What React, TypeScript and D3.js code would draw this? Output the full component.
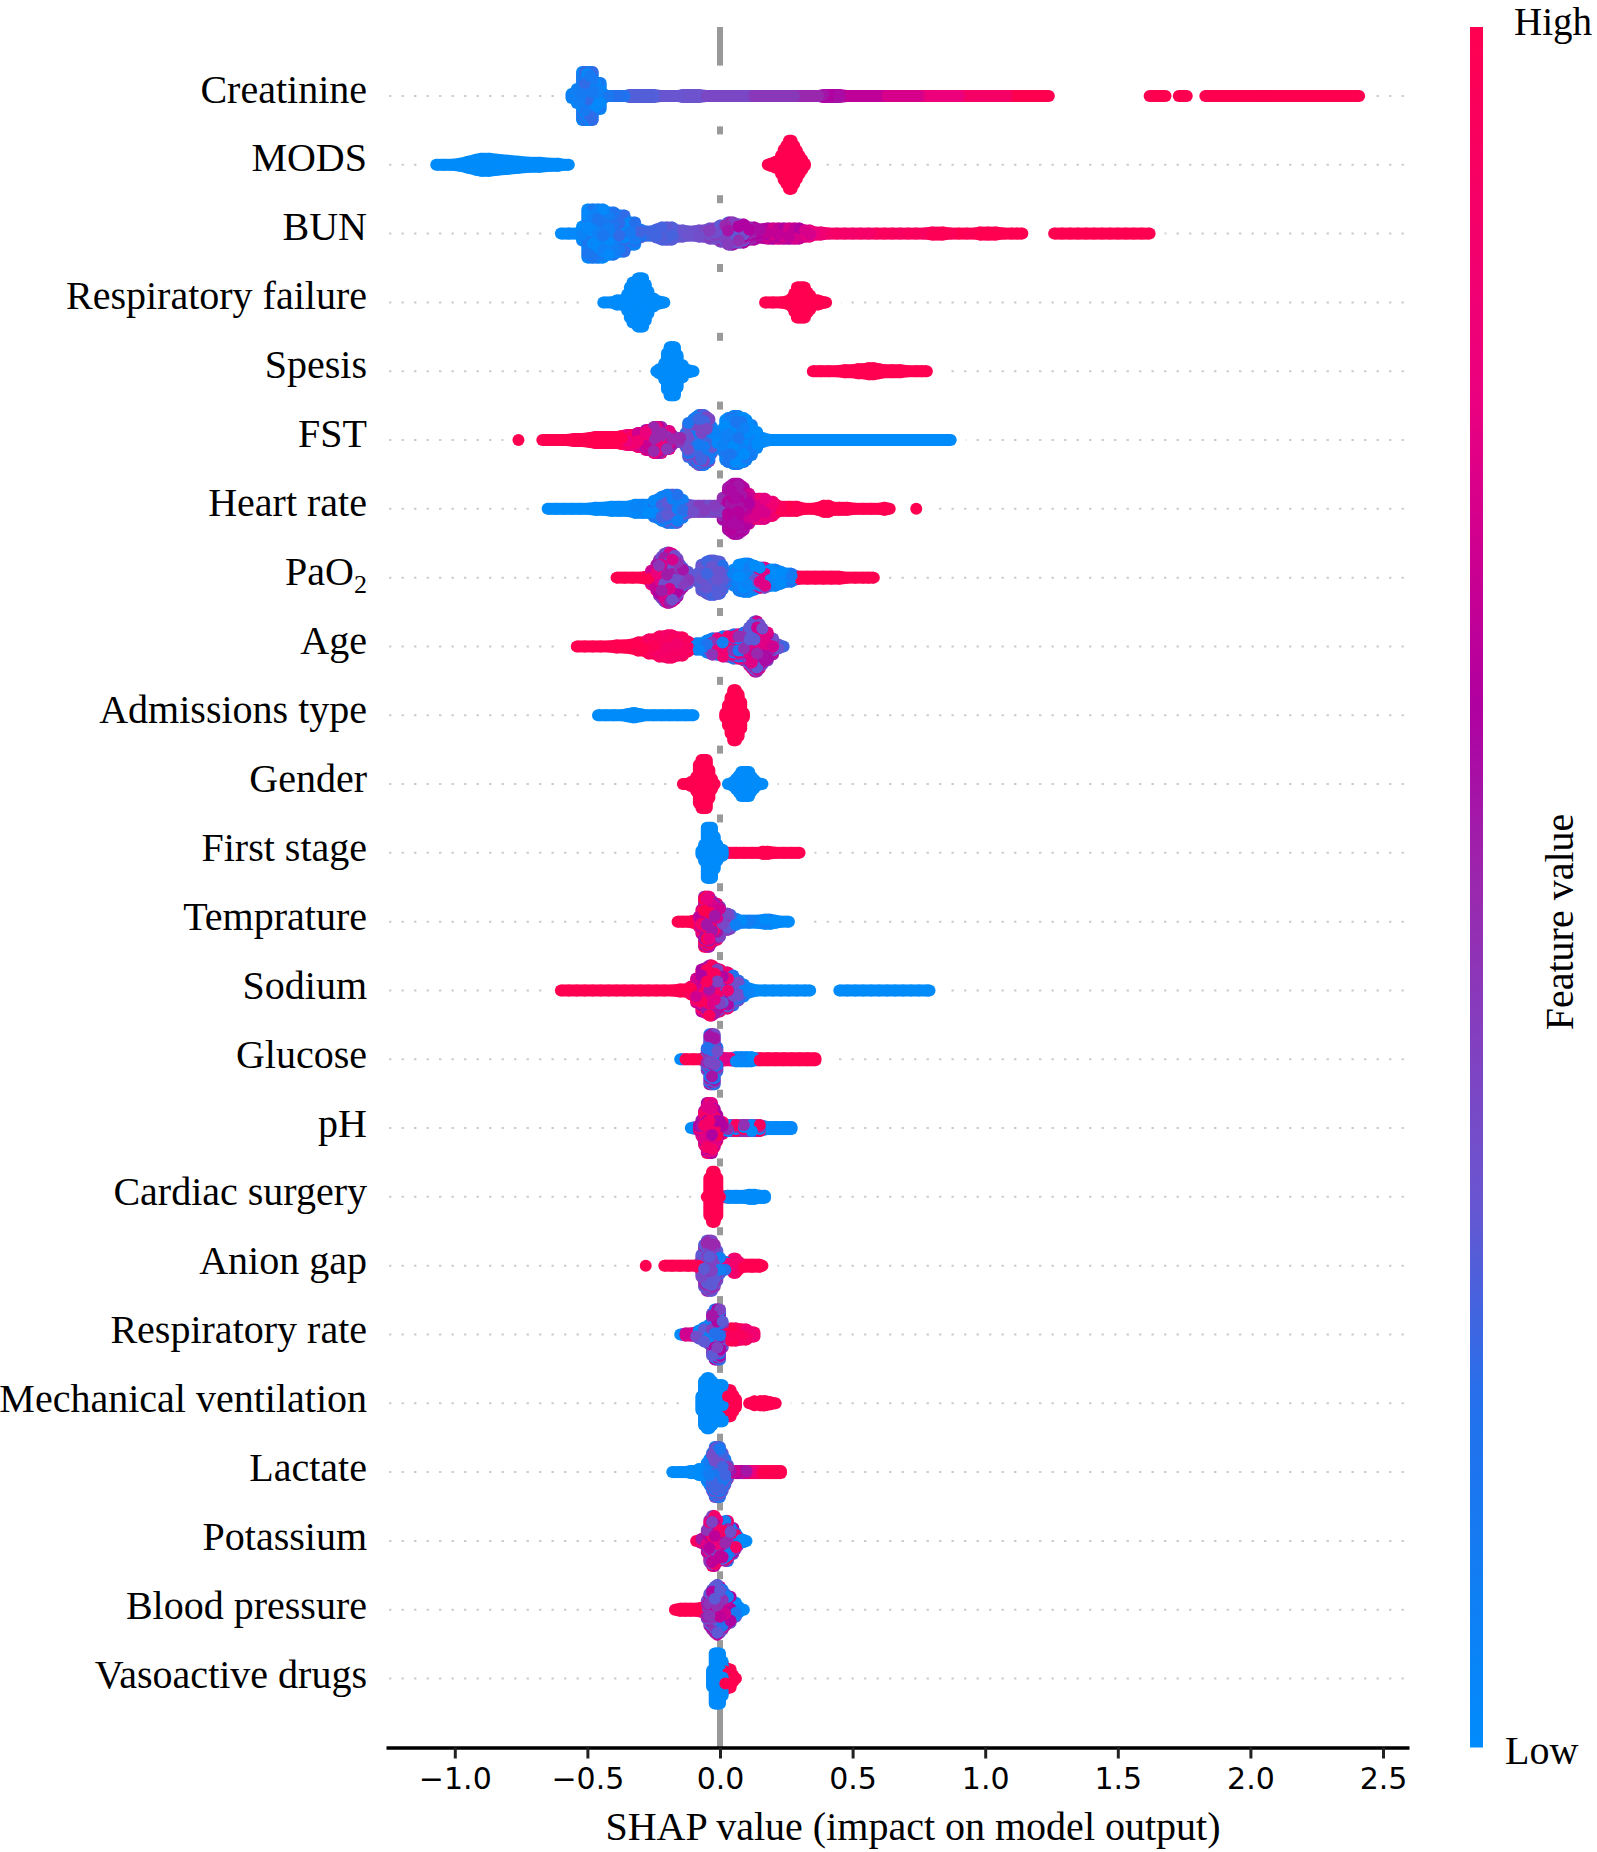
import React, { useEffect, useRef } from 'react';
import * as d3 from 'd3';

// one run = [points stacked per x, colour low, colour high, SHAP values x100]
type Run = [number, number, number, number[]];

const featureNames = ['Creatinine', 'MODS', 'BUN', 'Respiratory failure', 'Spesis', 'FST', 'Heart rate', 'PaO', 'Age', 'Admissions type', 'Gender', 'First stage', 'Temprature', 'Sodium', 'Glucose', 'pH', 'Cardiac surgery', 'Anion gap', 'Respiratory rate', 'Mechanical ventilation', 'Lactate', 'Potassium', 'Blood pressure', 'Vasoactive drugs'];
const axisTicks = [-1, -0.5, 0, 0.5, 1, 1.5, 2, 2.5];
const colorStops = ['#008bfb', '#2470ec', '#6a55d0', '#8240c0', '#9a28ae', '#b000a0', '#ea0080', '#ff0051'];
const colorStopAt = [0, 0.2, 0.32, 0.41, 0.5, 0.605, 0.78, 1];

const creatinine: Run[] = [
  [3, .02, .08, [-56, -55]], [8, .02, .1, [-54, -53]], [25, .02, .22, [-52, -51, -50, -49, -48]], [14, .02, .15, [-47, -46, -45]], [3, .05, .1, [-44]],
  [1, .15, .2, [-42, -39, -36]], [2, .28, .28, [-34, -31, -28, -25]], [1, .32, .32, [-22, -19, -16]], [2, .33, .33, [-14, -11, -8]],
  [1, .38, .38, [-5, -2, 1, 4, 7, 10]], [1, .44, .44, [13, 16, 19, 22, 25, 28]], [1, .5, .5, [31, 34, 37]], [2, .55, .6, [39, 42, 45]],
  [1, .65, .65, [48, 51, 54, 57, 60]], [1, .72, .72, [63, 66, 69, 72, 75]], [1, .8, .8, [78, 81, 84, 87, 90]], [1, .9, .9, [93, 96, 99, 102, 105, 108]],
  [1, 1, 1, [111, 114, 117, 120, 122, 124, 162, 165, 168, 173, 176, 183, 186, 189, 192, 195, 198, 201, 204, 207, 210, 213, 216, 219, 222, 225, 228, 231, 234, 237, 239, 241]],
];
const mods: Run[] = [
  [1, 0, 0, [-107, -104, -101]], [2, 0, 0, [-98]], [4, 0, 0, [-95]], [6, 0, 0, [-92]], [7, 0, 0, [-90, -87]], [6, 0, 0, [-84]], [5, 0, 0, [-80]], [4, 0, 0, [-76]], [3, 0, 0, [-72, -68]], [2, 0, 0, [-64, -61]], [1, 0, 0, [-59, -57]],
  [1, 1, 1, [18]], [2, 1, 1, [19]], [4, 1, 1, [21]], [10, 1, 1, [23]], [16, 1, 1, [24]], [20, 1, 1, [25]], [25, 1, 1, [26, 27]], [20, 1, 1, [28]], [15, 1, 1, [29]], [10, 1, 1, [30]], [6, 1, 1, [31]], [2, 1, 1, [32]],
];
const bun: Run[] = [
  [1, 0, .02, [-60, -57, -54]], [8, 0, .06, [-52]], [25, .02, .15, [-50, -48, -46, -44]], [22, .02, .18, [-42, -40]], [19, .03, .22, [-38, -36]], [12, .05, .2, [-34, -32]], [5, .15, .25, [-30]], [3, .22, .25, [-28, -26]],
  [5, .25, .28, [-24]], [7, .26, .3, [-22, -20, -18]], [4, .3, .32, [-16, -14]], [3, .32, .34, [-12, -10]], [4, .35, .38, [-8, -6]], [6, .35, .42, [-4, -2]], [9, .3, .5, [0, 2]], [12, .3, .55, [3, 4, 5]], [10, .35, .6, [7, 9]], [7, .5, .6, [11, 13]], [5, .58, .62, [15]],
  [6, .6, .72, [18, 20, 22, 24, 26, 28, 30]], [4, .72, .78, [32, 34]], [2, .8, .85, [36, 38]], [1, .88, .9, [41, 44, 47, 50, 53, 56]], [1, .93, .95, [59, 62, 65, 68, 71, 74, 77]], [2, .96, .98, [80, 84]], [1, .97, 1, [87, 90, 93, 96]], [2, 1, 1, [98, 101, 104]], [1, 1, 1, [107, 110, 112, 114, 126, 129, 132, 135, 138, 141, 144, 147, 150, 153, 156, 159, 162]],
];
const respFailure: Run[] = [
  [1, 0, 0, [-44, -41]], [3, 0, 0, [-39, -37]], [9, 0, 0, [-35]], [16, 0, 0, [-34]], [21, 0, 0, [-33, -32]], [25, 0, 0, [-31, -30, -29]], [19, 0, 0, [-28]], [12, 0, 0, [-27]], [5, 0, 0, [-26, -25]], [2, 0, 0, [-24, -23]], [1, 0, 0, [-21]],
  [1, 1, 1, [17, 20, 23]], [2, 1, 1, [25]], [5, 1, 1, [27]], [10, 1, 1, [28]], [16, 1, 1, [29, 30, 31, 32]], [11, 1, 1, [33]], [8, 1, 1, [34]], [3, 1, 1, [35, 37]], [2, 1, 1, [38]], [1, 1, 1, [40]],
];
const sepsis: Run[] = [
  [1, 0, 0, [-24]], [3, 0, 0, [-23, -22]], [9, 0, 0, [-21]], [19, 0, 0, [-20]], [25, 0, 0, [-19, -18, -17]], [17, 0, 0, [-16]], [7, 0, 0, [-15, -14]], [2, 0, 0, [-13, -12]], [1, 0, 0, [-10]],
  [1, 1, 1, [35, 38, 41, 44]], [2, 1, 1, [47, 50]], [3, 1, 1, [52, 54]], [4, 1, 1, [56, 58]], [3, 1, 1, [60]], [2, 1, 1, [62, 65, 68]], [1, 1, 1, [71, 74, 76, 78]],
];
const fst: Run[] = [
  [1, 1, 1, [-76, -67, -64, -61, -58]], [2, 1, 1, [-55, -52]], [3, 1, 1, [-49]], [4, 1, 1, [-47, -45, -43, -41, -39]], [5, .95, 1, [-37]], [6, .8, .95, [-35, -33]], [8, .7, .85, [-31, -29]], [11, .55, .8, [-28, -27]], [14, .5, .8, [-25, -24, -23, -22]], [10, .45, .75, [-20, -19]], [6, .45, .55, [-18]], [3, .4, .5, [-16, -15]],
  [2, .38, .42, [-14]], [8, .25, .38, [-13]], [18, .15, .35, [-12]], [22, .12, .38, [-10, -4]], [24, .12, .38, [-9, -5]], [26, .12, .38, [-8, -7, -6]], [14, .05, .3, [-3]], [6, .05, .2, [-2]], [4, .02, .12, [-1, 0]], [12, 0, .12, [1]], [21, 0, .15, [2]], [23, 0, .15, [3, 4, 8, 9]], [25, 0, .15, [5, 6, 7]], [21, 0, .12, [10]], [16, 0, .1, [11, 12]], [9, 0, .05, [14]], [3, 0, 0, [16]],
  [1, 0, 0, [19, 22, 25, 28, 31, 34, 37, 40, 43, 46, 49, 52, 55, 58, 61, 64, 67, 70, 73, 76, 79, 82, 85, 87]],
];
const heartRate: Run[] = [
  [1, 0, 0, [-65, -62, -59, -56, -53, -50]], [2, 0, 0, [-47, -44]], [3, 0, .02, [-41, -38, -35]], [5, 0, .05, [-32, -29, -27]], [9, .02, .2, [-25]], [13, .05, .25, [-22]], [15, .08, .3, [-20, -18, -16]], [10, .1, .32, [-14]], [5, .3, .35, [-12]],
  [4, .35, .42, [-10, -8, -6, -4, -2, 0]], [12, .48, .6, [1]], [22, .55, .62, [3, 9]], [24, .55, .62, [4, 8]], [26, .55, .62, [5, 6, 7]], [16, .6, .7, [10, 11]], [11, .72, .82, [13, 15, 17]], [8, .8, .9, [19, 20]], [3, .95, 1, [23, 26, 29]],
  [1, 1, 1, [32, 35]], [2, 1, 1, [37]], [4, 1, 1, [39, 41]], [2, 1, 1, [43, 45, 48]], [1, 1, 1, [51, 54, 57, 60]], [2, 1, 1, [62]], [1, 1, 1, [64, 74]],
];
const pao2: Run[] = [
  [1, 1, 1, [-39, -36, -33, -30]], [2, 1, 1, [-28, -27]], [8, .7, .85, [-26]], [14, .55, .8, [-24]], [19, .45, .75, [-23]], [22, .35, .72, [-22]], [25, .35, .72, [-21, -18]], [26, .35, .72, [-20, -19]], [23, .35, .6, [-17]], [20, .35, .6, [-16]], [14, .3, .55, [-15]], [11, .3, .55, [-14]], [7, .3, .45, [-12]], [3, .32, .36, [-10]],
  [6, .3, .34, [-8]], [14, .27, .33, [-7]], [17, .25, .32, [-5, -1, 0]], [18, .25, .32, [-4, -3, -2]], [13, .2, .3, [1]], [5, .15, .25, [3]], [9, .02, .1, [5]], [14, 0, .1, [7]], [15, 0, .1, [9, 10, 11]], [13, 0, .3, [13]], [11, 0, .75, [15, 17]], [9, 0, .1, [19, 21]], [7, 0, .9, [23]], [5, .02, .2, [25, 27]], [3, .2, .6, [28]],
  [2, 1, 1, [30, 33, 36, 39, 42, 45]], [1, 1, 1, [48, 51, 54, 56, 58]],
];
const age: Run[] = [
  [1, 1, 1, [-54, -51, -48, -45, -42]], [2, 1, 1, [-39, -36]], [3, 1, 1, [-33]], [5, .97, 1, [-31, -29]], [8, .92, .97, [-27, -25]], [11, .9, .95, [-23, -21]], [12, .88, .94, [-20, -19, -18]], [10, .88, .95, [-16, -14]], [6, .92, .97, [-12]], [3, .95, 1, [-11]],
  [4, .02, .05, [-9, -8, -7]], [7, .05, .3, [-5]], [9, .1, .8, [-3, -1]], [11, .1, .85, [1, 3]], [13, .15, .8, [5, 7]], [15, .2, .75, [9]], [20, .3, .75, [11]], [23, .3, .75, [12]], [26, .3, .7, [13, 14]], [23, .35, .75, [15]], [19, .35, .75, [16]], [15, .4, .75, [17, 18]], [9, .35, .7, [20]], [3, .3, .35, [22]], [1, .25, .25, [24]],
];
const admissions: Run[] = [
  [1, 0, 0, [-46, -43, -40, -37]], [2, 0, 0, [-35]], [3, 0, 0, [-33, -32]], [2, 0, 0, [-30]], [1, 0, 0, [-28, -25, -22, -19, -16, -13, -10]],
  [3, 1, 1, [2]], [11, 1, 1, [3]], [19, 1, 1, [4]], [26, 1, 1, [5, 6]], [22, 1, 1, [7]], [14, 1, 1, [8]], [3, 1, 1, [9]],
];
const gender: Run[] = [
  [1, 1, 1, [-14, -12]], [3, 1, 1, [-11, -10]], [8, 1, 1, [-9]], [20, 1, 1, [-8]], [25, 1, 1, [-7, -6, -5]], [15, 1, 1, [-4]], [6, 1, 1, [-3]], [1, 1, 1, [-2]],
  [1, 0, 0, [3]], [3, 0, 0, [5]], [6, 0, 0, [6]], [9, 0, 0, [7]], [13, 0, 0, [8, 9, 10, 11]], [8, 0, 0, [12]], [5, 0, 0, [13]], [2, 0, 0, [14]], [1, 0, 0, [16]],
];
const firstStage: Run[] = [
  [1, 1, 1, [3, 6, 9, 12, 15, 18, 21, 24, 27, 30]], [2, 1, 1, [16, 18]],
  [3, 0, 0, [-7]], [9, 0, 0, [-6]], [26, 0, 0, [-5, -4, -3]], [17, 0, 0, [-2]], [9, 0, 0, [-1]], [4, 0, 0, [0, 1]],
];
const temperature: Run[] = [
  [1, 1, 1, [-16, -14, -12]], [2, .95, 1, [-10, -9]], [6, .65, .85, [-8]], [13, .65, .9, [-7]], [26, .55, 1, [-6, -5, -4]], [22, .55, .9, [-3]], [19, .55, .9, [-2, -1]], [16, .4, .7, [0]], [9, .3, .45, [1, 2, 3]], [8, .25, .35, [4]], [4, .08, .2, [6]],
  [2, 0, .1, [8, 11, 14]], [3, 0, .1, [17, 19]], [2, 0, 0, [21]], [1, 0, 0, [23, 26]],
];
const sodium: Run[] = [
  [1, 1, 1, [-60, -57, -54, -51, -48, -45, -42, -39, -36, -33, -30, -27, -24, -21, -18]], [2, 1, 1, [-15, -13]], [5, .9, 1, [-11]], [13, .7, .95, [-9]], [22, .6, .95, [-7]], [24, .55, .95, [-5, -2]], [26, .55, .95, [-4, -3]], [22, .4, .9, [-1, 0]], [19, .3, .85, [1, 3]], [16, .2, .35, [5]], [11, .2, .35, [7]], [7, .05, .3, [9]], [3, 0, .1, [11]],
  [1, 0, 0, [14, 17, 20, 23, 26, 29, 32, 34, 45, 48, 51, 54, 57, 60, 63, 66, 69, 72, 75, 78, 79]],
];
const glucose: Run[] = [
  [1, 0, 0, [-15]], [1, 1, 1, [-13, -10, -7]], [3, .3, .5, [-6]], [12, .2, .5, [-5]], [26, .2, .55, [-4, -3, -2]], [13, .2, .5, [-1]], [3, .55, .7, [0]],
  [2, .75, .85, [2, 4]], [3, 0, .05, [6, 8, 10, 12]], [2, .02, .03, [13]], [2, 1, 1, [15, 18, 21, 24, 27, 30, 33, 36]],
];
const ph: Run[] = [
  [1, 0, 0, [-11]], [3, .6, .8, [-8]], [9, .55, .85, [-7]], [18, .6, .9, [-6]], [26, .6, .9, [-5, -4, -3]], [20, .6, .9, [-2]], [14, .6, 1, [-1]], [7, .6, .9, [0, 1]],
  [4, 0, .95, [3, 6, 9, 12, 15]], [2, 0, .02, [18, 21, 24, 26, 27]],
];
const cardiac: Run[] = [
  [1, 1, 1, [-5]], [20, 1, 1, [-4]], [26, 1, 1, [-3, -2]], [20, 1, 1, [-1]], [1, 1, 1, [0]],
  [2, 0, 0, [3, 6, 9]], [3, 0, 0, [11, 13]], [2, 0, 0, [15, 17]],
];
const anionGap: Run[] = [
  [1, 1, 1, [-28, -21, -18, -15, -12, -9]], [3, .9, 1, [-8]], [12, .3, .45, [-7]], [22, .3, .5, [-6, -2]], [26, .3, .5, [-5, -4, -3]], [16, .3, .5, [-1]], [9, .1, .4, [0]], [5, .1, .2, [2]],
  [3, .8, .9, [3]], [8, .85, .9, [5, 6]], [5, .9, 1, [7]], [2, 1, 1, [9, 12, 15]], [1, 1, 1, [16]],
];
const respRate: Run[] = [
  [1, 0, 0, [-15]], [2, .7, .75, [-13, -11]], [3, .7, .02, [-9]], [5, .02, .3, [-8]], [8, .05, .3, [-6]], [11, .05, .3, [-4]], [22, .3, .55, [-3]], [26, .2, .6, [-2, -1, 0]], [14, .3, .5, [1]],
  [2, 1, 1, [3]], [7, 1, .95, [4, 6]], [6, .95, .85, [8, 10]], [3, .85, .9, [12, 13]],
];
const mechVent: Run[] = [
  [1, 1, 1, [11, 14, 17, 20, 21]], [3, 1, 1, [13, 15, 17]], [2, 1, 1, [19]], [5, 1, 1, [6]], [9, 1, 1, [5]], [14, 1, 1, [3, 4]],
  [8, 0, 0, [-7]], [26, 0, 0, [-5, -4]], [23, 0, 0, [-6, -3]], [19, 0, 0, [-2, -1, 0, 1]],
];
const lactate: Run[] = [
  [1, 0, 0, [-18, -15, -13]], [2, 0, 0, [-11, -9]], [4, 0, 0, [-8, -6]], [10, .02, .08, [-5]], [14, .02, .2, [-4]], [20, .15, .35, [-3, 1]], [26, .15, .35, [-2, -1, 0]], [14, .15, .35, [2]], [8, .25, .45, [3]],
  [2, .55, .7, [4, 6, 8, 10]], [2, .8, .9, [12, 14]], [2, 1, 1, [16, 18, 20, 22, 23]],
];
const potassium: Run[] = [
  [1, .95, .95, [-9]], [3, .55, .9, [-7, -6]], [12, .45, .75, [-5]], [22, .45, .8, [-4, -1]], [26, .4, .9, [-3, -2]], [20, .4, .9, [0]], [19, .3, 1, [1]], [21, .1, .9, [2, 3]], [14, .08, .6, [4, 5]], [9, .02, .9, [6]], [5, 0, .5, [7]], [2, 0, .02, [8, 9]], [1, 0, 0, [10]],
];
const bloodPressure: Run[] = [
  [1, 1, 1, [-17]], [2, 1, 1, [-15, -13, -11, -9]], [3, 1, .7, [-7]], [10, .35, .7, [-5]], [17, .3, .6, [-4]], [21, .3, .6, [-3]], [24, .3, .65, [-2, 0]], [26, .3, .65, [-1]], [21, .2, .7, [1]], [17, .2, .7, [2]], [14, .1, .6, [3, 4]], [8, 0, .3, [6]], [4, 0, .05, [7]], [1, 0, 0, [9]],
];
const vasoactive: Run[] = [
  [1, 1, 1, [6]], [4, 1, 1, [5]], [10, 1, 1, [3, 4]], [12, 1, 1, [2]],
  [9, 0, 0, [-3]], [26, 0, 0, [-2, -1, 0]], [18, 0, 0, [1]],
];
const featureRuns = [creatinine, mods, bun, respFailure, sepsis, fst, heartRate, pao2, age, admissions, gender, firstStage, temperature, sodium, glucose, ph, cardiac, anionGap, respRate, mechVent, lactate, potassium, bloodPressure, vasoactive];

const serif = '"Liberation Serif", serif';

const App = () => {
  const ref = useRef<SVGSVGElement>(null);

  useEffect(() => {
    const svg = d3.select(ref.current);
    svg.selectAll('*').remove();

    const x = d3.scaleLinear().domain([-1.2594, 2.598]).range([386, 1409]);
    const y = d3.scaleLinear().domain([0, featureNames.length - 1]).range([96, 1678.5]);
    const labelY = d3.scaleLinear().domain([0, featureNames.length - 1]).range([102.5, 1688]);
    const color = d3.scaleLinear<string>().domain(colorStopAt).range(colorStops);
    const radius = 6;
    const stackStep = 2;
    const bridgeGap = 4;
    const axisY = 1747.5;
    const barTop = 27;

    // grey zero line only shows in the gaps between the rows
    const middles = d3.range(0, featureNames.length - 1).map((i) => y(i + 0.5));
    const zeroSegments: [number, number][] = [[barTop, y(-0.5) + 4], ...middles.map((m) => [m - 4, m + 4] as [number, number]), [y(featureNames.length - 0.5) - 4, axisY]];
    svg.append('g').selectAll('line').data(zeroSegments).enter().append('line')
      .attr('x1', x(0)).attr('x2', x(0))
      .attr('y1', (d) => d[0]).attr('y2', (d) => d[1])
      .attr('stroke', '#999').attr('stroke-width', 6);

    featureNames.forEach((name, i) => {
      const row = svg.append('g');
      const cy = y(i);
      const values = featureRuns[i].flatMap((r) => r[3]);
      const lo = x(d3.min(values)! / 100);
      const hi = x(d3.max(values)! / 100);

      row.append('line')
        .attr('x1', x.range()[0]).attr('x2', x.range()[1])
        .attr('y1', cy).attr('y2', cy)
        .attr('stroke', '#ccc').attr('stroke-width', 2)
        .attr('stroke-dasharray', '2.4 10.1').attr('stroke-dashoffset', -3);
      row.append('rect')
        .attr('x', lo - radius - 9).attr('width', hi - lo + 2 * radius + 18)
        .attr('y', cy - 3).attr('height', 6).attr('fill', '#fff');

      const dots: { v: number; dy: number; c: number }[] = [];
      const bins = new Map<number, { count: number; c: number }>();
      featureRuns[i].forEach(([count, cLo, cHi, xs]) => {
        xs.forEach((v, vi) => {
          const old = bins.get(v);
          if (!old || count > old.count) bins.set(v, { count, c: (cLo + cHi) / 2 });
          d3.range(count).forEach((k) => {
            const pick = (k + vi) % 3;
            dots.push({
              v,
              dy: (k - (count - 1) / 2) * stackStep,
              c: pick === 0 ? cLo : pick === 1 ? cHi : (cLo + cHi) / 2,
            });
          });
        });
      });

      // the real swarm has far more points than are listed here, so close
      // the gaps between neighbouring stacks with their outline
      const halfHeight = (count: number) => ((count - 1) / 2) * stackStep + radius;
      const sorted = Array.from(bins.keys()).sort(d3.ascending);
      const bridges = d3.pairs(sorted).filter(([a, b]) => b - a <= bridgeGap);
      const bridgeArea = d3.area<number>()
        .x((v) => x(v / 100))
        .y0((v) => cy - halfHeight(bins.get(v)!.count))
        .y1((v) => cy + halfHeight(bins.get(v)!.count));
      row.selectAll('path').data(bridges).enter().append('path')
        .attr('d', (d) => bridgeArea(d))
        .attr('fill', (d) => color((bins.get(d[0])!.c + bins.get(d[1])!.c) / 2));

      // fixed shuffle of the drawing order, so the colours overlap in patches
      const order = dots.map((d, n) => ({ d, key: (n * 7919) % 1009 })).sort((a, b) => a.key - b.key).map((o) => o.d);

      row.selectAll('circle').data(order).enter().append('circle')
        .attr('cx', (d) => x(d.v / 100))
        .attr('cy', (d) => cy + d.dy)
        .attr('r', radius)
        .attr('fill', (d) => color(d.c));

      const label = row.append('text')
        .attr('x', 367).attr('y', labelY(i))
        .attr('text-anchor', 'end')
        .attr('font-family', serif).attr('font-size', 40)
        .attr('fill', '#000')
        .text(name);
      if (name === 'PaO') {
        label.append('tspan').attr('font-size', 26).attr('dy', 8).text('2');
      }
    });

    // x axis
    const axis = svg.append('g')
      .attr('transform', 'translate(0,' + axisY + ')')
      .call(d3.axisBottom(x).tickValues(axisTicks).tickSize(11).tickSizeOuter(0).tickPadding(9).tickFormat(d3.format('.1f') as any));
    axis.select('.domain').attr('stroke', '#000').attr('stroke-width', 3.5);
    axis.selectAll('.tick line').attr('stroke', '#222').attr('stroke-width', 3);
    axis.selectAll('.tick text')
      .attr('font-family', '"DejaVu Sans", sans-serif').attr('font-size', 30).attr('fill', '#000');

    svg.append('text')
      .attr('x', 913).attr('y', 1840)
      .attr('text-anchor', 'middle')
      .attr('font-family', serif).attr('font-size', 40)
      .text('SHAP value (impact on model output)');

    // colour bar
    const gradient = svg.append('defs').append('linearGradient')
      .attr('id', 'barGradient')
      .attr('x1', 0).attr('x2', 0).attr('y1', 1).attr('y2', 0);
    colorStops.forEach((c, i) => {
      gradient.append('stop').attr('offset', colorStopAt[i]).attr('stop-color', c);
    });
    svg.append('rect')
      .attr('x', 1470).attr('y', barTop).attr('width', 13).attr('height', axisY - barTop)
      .attr('fill', 'url(#barGradient)');

    svg.append('text')
      .attr('x', 1514).attr('y', 35)
      .attr('font-family', serif).attr('font-size', 39)
      .text('High');
    svg.append('text')
      .attr('x', 1505).attr('y', 1764)
      .attr('font-family', serif).attr('font-size', 40)
      .text('Low');
    svg.append('text')
      .attr('transform', 'translate(1573,922) rotate(-90)')
      .attr('text-anchor', 'middle')
      .attr('font-family', serif).attr('font-size', 40)
      .text('Feature value');
  }, []);

  return (
    <svg ref={ref} width={1597} height={1852} style={{ position: 'absolute', left: 0, top: 0, background: '#fff' }} />
  );
};

export default App;
